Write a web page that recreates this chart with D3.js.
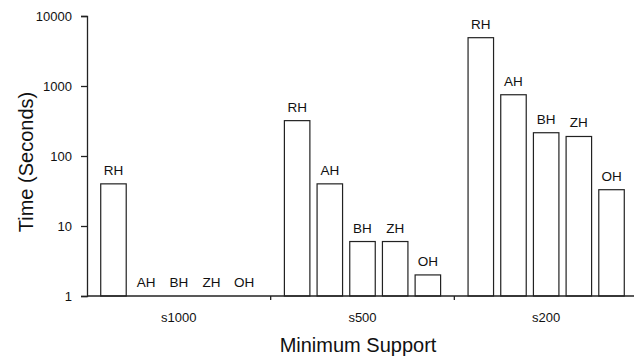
<!DOCTYPE html>
<html>
<head>
<meta charset="utf-8">
<script src="https://cdn.jsdelivr.net/npm/d3@7"></script>
<style>
  body { margin: 0; background: #fff; }
  text { font-family: "Liberation Sans", Arial, sans-serif; fill: #111; }
</style>
</head>
<body>
<div class="chart"></div>
<script>
const categories = ["s1000", "s500", "s200"];
const series = ["RH", "AH", "BH", "ZH", "OH"];
const rhValues = [40, 320, 4900];
const ahValues = [1, 40, 750];
const bhValues = [1, 6, 215];
const zhValues = [1, 6, 190];
const ohValues = [1, 2, 33];
const yTicks = [1, 10, 100, 1000, 10000];

const WIDTH = 634, HEIGHT = 363;
const margin = {left: 87, right: -4, top: 16, bottom: 67};

const valuesBySeries = [rhValues, ahValues, bhValues, zhValues, ohValues];
const groups = categories.map((c, ci) => ({
  name: c,
  bars: series.map((s, si) => ({key: s, value: valuesBySeries[si][ci]}))
}));

const innerW = WIDTH - margin.left - margin.right;
const innerH = HEIGHT - margin.top - margin.bottom;

const svg = d3.select(".chart").append("svg")
  .attr("width", WIDTH)
  .attr("height", HEIGHT);

const chart = svg.append("g")
  .attr("transform", `translate(${margin.left},${margin.top})`);

const x0 = d3.scaleBand().domain(categories).range([0, innerW]);
const x1 = d3.scaleBand().domain(series).range([0, x0.bandwidth()])
  .paddingInner(0.22).paddingOuter(0.42);
const y = d3.scaleLog().domain([1, 10000]).range([innerH, 0]);

// bars
const g = chart.selectAll("g.group")
  .data(groups)
  .enter().append("g")
  .attr("class", "group")
  .attr("transform", d => `translate(${x0(d.name)},0)`);

g.selectAll("rect")
  .data(d => d.bars)
  .enter().append("rect")
  .attr("x", d => x1(d.key))
  .attr("y", d => y(d.value))
  .attr("width", x1.bandwidth())
  .attr("height", d => y(1) - y(d.value))
  .attr("fill", "#fff")
  .attr("stroke", "#222")
  .attr("stroke-width", 1.2);

g.selectAll("text.bar-label")
  .data(d => d.bars)
  .enter().append("text")
  .attr("class", "bar-label")
  .attr("x", d => x1(d.key) + x1.bandwidth() / 2)
  .attr("y", d => y(d.value) - 9)
  .attr("text-anchor", "middle")
  .style("font-size", "13.5px")
  .text(d => d.key);

// y axis
const yAxis = d3.axisLeft(y)
  .tickValues(yTicks)
  .tickFormat(d3.format("d"))
  .tickSize(6)
  .tickPadding(9);

const ya = chart.append("g").call(yAxis);
ya.selectAll("text").style("font-size", "13px");
ya.selectAll("path, line").attr("stroke", "#222").attr("stroke-width", 1.3);

// x axis: category labels centered, ticks at group boundaries
chart.append("line")
  .attr("x1", 0).attr("x2", innerW)
  .attr("y1", innerH).attr("y2", innerH)
  .attr("stroke", "#222").attr("stroke-width", 1.5);

chart.selectAll("line.xtick")
  .data(categories.slice(1))
  .enter().append("line")
  .attr("class", "xtick")
  .attr("x1", d => x0(d)).attr("x2", d => x0(d))
  .attr("y1", innerH).attr("y2", innerH + 4)
  .attr("stroke", "#222").attr("stroke-width", 1.3);

chart.selectAll("text.xlabel")
  .data(categories)
  .enter().append("text")
  .attr("class", "xlabel")
  .attr("x", d => x0(d) + x0.bandwidth() / 2)
  .attr("y", innerH + 26)
  .attr("text-anchor", "middle")
  .style("font-size", "13px")
  .text(d => d);

// axis titles
svg.append("text")
  .attr("x", 358)
  .attr("y", 352)
  .attr("text-anchor", "middle")
  .style("font-size", "20px")
  .text("Minimum Support");

svg.append("text")
  .attr("transform", "translate(33,162) rotate(-90)")
  .attr("text-anchor", "middle")
  .style("font-size", "20px")
  .text("Time (Seconds)");
</script>
</body>
</html>
